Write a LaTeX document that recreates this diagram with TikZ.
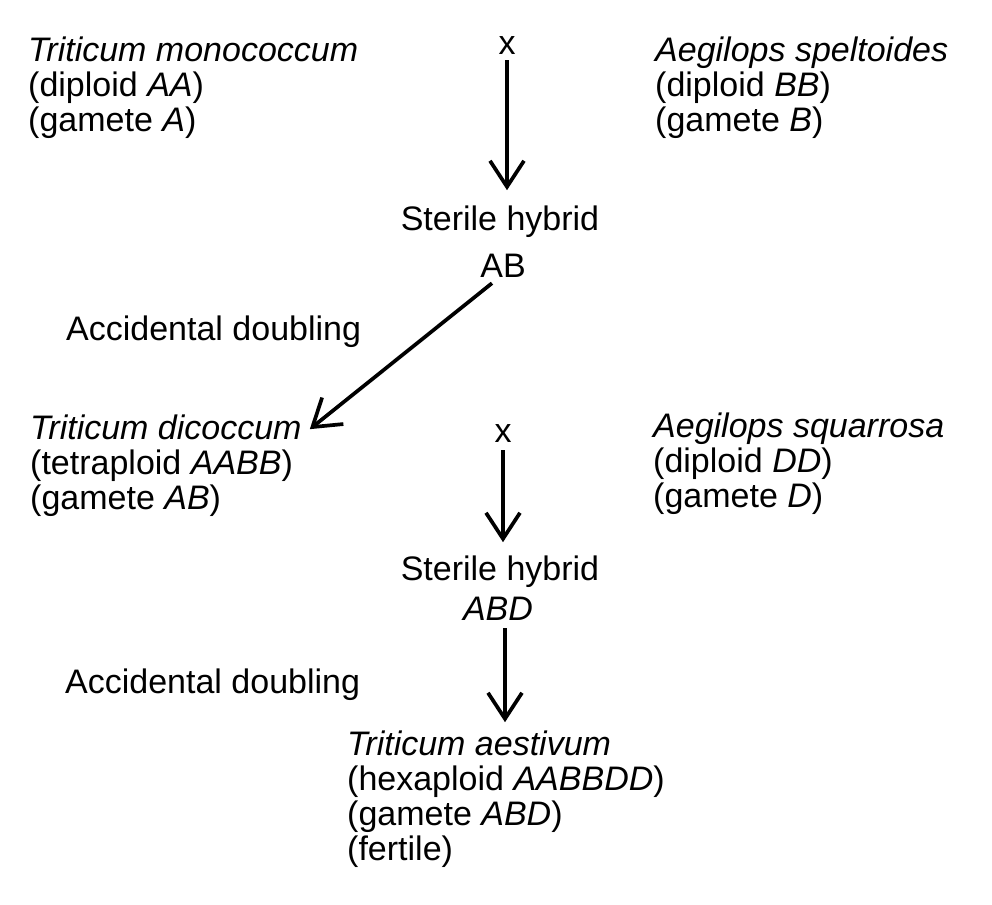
\documentclass[tikz,border=0pt]{standalone}
\usepackage{fontspec}
\setmainfont{Liberation Sans}
\usetikzlibrary{arrows.meta}
\usetikzlibrary{positioning}
\tikzset{
	txt/.style={inner sep=0pt, font=\fontsize{34}{35}\selectfont},
	block/.style={txt, align=left, anchor=base west},
	arr/.style={line width=3.7pt, -{Straight Barb[length=26pt,width=34pt]}}
}
\begin{document}
\begin{tikzpicture}[x=1pt,y=-1pt]
		\useasboundingbox (0,0) rectangle (992,904);

		%first cross (blocks sit on their last line)
		\node[block] (mono) at (28,132) {\textit{Triticum monococcum}\\(diploid \textit{AA})\\(gamete \textit{A})};
		\node[block] (spelt) at (655,132) {\textit{Aegilops speltoides}\\(diploid \textit{BB})\\(gamete \textit{B})};
		\node[txt, anchor=base] (x1) at (507,55) {x};
		\node[txt, anchor=base] (hyb1) at (500,230) {Sterile hybrid};
		\node[txt, anchor=base] (ab) at (503,277) {AB};
		\node[block] (acc1) at (66,340) {Accidental doubling};

		%second cross
		\node[block] (dicoc) at (30,509) {\textit{Triticum dicoccum}\\(tetraploid \textit{AABB})\\(gamete \textit{AB})};
		\node[block] (squar) at (653,507) {\textit{Aegilops squarrosa}\\(diploid \textit{DD})\\(gamete \textit{D})};
		\node[txt, anchor=base] (x2) at (503,442) {x};
		\node[txt, anchor=base] (hyb2) at (500,580) {Sterile hybrid};
		\node[txt, anchor=base] (abd) at (498,620) {\textit{ABD}};
		\node[block] (acc2) at (65,693) {Accidental doubling};
		\node[block] (aest) at (347,860) {\textit{Triticum aestivum}\\(hexaploid \textit{AABBDD})\\(gamete \textit{ABD})\\(fertile)};

		%arrows
		\coordinate (a3) at ([xshift=7pt]abd.south);
		\draw[arr, shorten <=5pt, shorten >=15pt] (x1.south) -- (x1.south |- hyb1.north);
		\draw[arr] ([shift={(-11pt,-6pt)}]ab.south) -- ([shift={(8pt,-15pt)}]dicoc.north east);
		\draw[arr, shorten <=8pt, shorten >=13pt] (x2.south) -- (x2.south |- hyb2.north);
		\draw[arr, shorten <=8pt, shorten >=8pt] (a3) -- (a3 |- aest.north);
	\end{tikzpicture}
\end{document}
